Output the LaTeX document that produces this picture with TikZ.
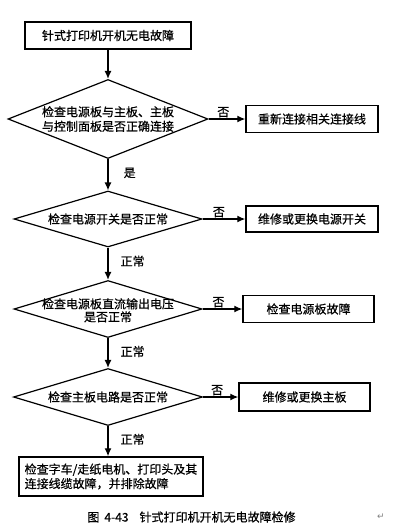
\documentclass[tikz,border=0pt]{standalone}
\usepackage{fontspec}
\setmainfont{Noto Sans CJK SC}[UprightFeatures={FakeBold=0.6}]
\newfontfamily\markfont{DejaVu Sans}
\usetikzlibrary{shapes.geometric,arrows.meta}

\begin{document}
\begin{tikzpicture}[x=1pt,y=-1pt,
    every node/.style={font=\fontsize{12pt}{14.5pt}\selectfont},
    stepbox/.style={draw,line width=1.4pt,inner sep=0pt,align=center},
    testdia/.style={draw,diamond,aspect=2.5,line width=1.2pt,inner sep=-12pt,align=center},
    flow/.style={line width=1.3pt,-{Latex[length=8pt,width=7pt]}},
    tag/.style={inner sep=1pt}]
    \useasboundingbox (0,0) rectangle (412,527);
    \node[stepbox,minimum width=166pt,minimum height=27pt] (start) at (108,35.5) {针式打印机开机无电故障};
    \node[testdia,minimum width=200pt,minimum height=79pt] (d1) at (108,119) {检查电源板与主板、主板\\与控制面板是否正确连接};
    \node[stepbox,minimum width=132pt,minimum height=27pt] (r1) at (312,119) {重新连接相关连接线};
    \node[testdia,minimum width=188pt,minimum height=56pt] (d2) at (108,219) {检查电源开关是否正常};
    \node[stepbox,minimum width=132pt,minimum height=26pt] (r2) at (312,219) {维修或更换电源开关};
    \node[testdia,minimum width=188pt,minimum height=57pt] (d3) at (108,309) {\raisebox{-6pt}[7pt][7pt]{\begin{tabular}{@{}c@{}}检查电源板直流输出电压\\[-1.5pt]是否正常\end{tabular}}};
    \node[stepbox,minimum width=131pt,minimum height=27pt] (r3) at (308.5,309) {检查电源板故障};
    \node[testdia,minimum width=189pt,minimum height=57pt] (d4) at (108,397) {检查主板电路是否正常};
    \node[stepbox,minimum width=131pt,minimum height=28pt] (r4) at (304.5,397) {维修或更换主板};
    \node[stepbox,align=left,minimum width=184pt,minimum height=39pt] (last) at (111,476.5) {检查字车/走纸电机、打印头及其\\连接线缆故障，并排除故障};
    \node (caption) at (191.5,517) {图\hspace{5pt}4-43\hspace{11pt}针式打印机开机无电故障检修};
    \node[gray,font=\markfont\fontsize{9pt}{9pt}\selectfont] (mark) at (381,517) {↵};

    \draw[flow] (start) -- (d1);
    \draw[flow] (d1) -- node[tag,right,pos=0.44,xshift=14pt] {是} (d2);
    \draw[flow] (d2) -- node[tag,right,pos=0.42,xshift=11pt] {正常} (d3);
    \draw[flow] (d3) -- node[tag,right,pos=0.45,xshift=11pt] {正常} (d4);
    \draw[flow] (d4.south) -- node[tag,right,pos=0.44,xshift=11pt] {正常} (d4.south |- last.north);
    \draw[flow] (d1) -- node[tag,above,pos=0.4] {否} (r1);
    \draw[flow] (d2) -- node[tag,above,pos=0.38] {否} (r2);
    \draw[flow] (d3) -- node[tag,above,pos=0.4] {否} (r3);
    \draw[flow] (d4) -- node[tag,above,pos=0.4] {否} (r4);
\end{tikzpicture}
\end{document}
